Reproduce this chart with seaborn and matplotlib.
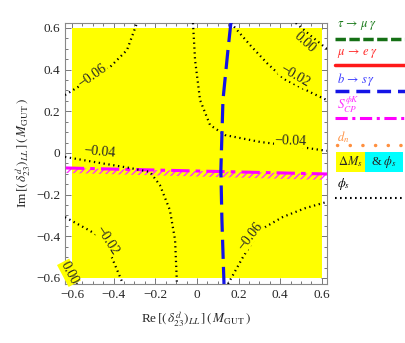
import matplotlib
matplotlib.use("Agg")
import matplotlib.pyplot as plt
from matplotlib.patches import Rectangle
from matplotlib.ticker import MultipleLocator, FuncFormatter
import numpy as np
import pandas as pd
import seaborn as sns

# allowed (Delta M_s & phi_s) region
region_x = [-0.6, 0.6]
region_lo = [-0.6, -0.6]
region_hi = [0.6, 0.6]

# b -> s gamma bound (blue dashed)
bsg_re = [0.163, 0.149, 0.125, 0.115, 0.120, 0.130]
bsg_im = [0.624, 0.494, 0.254, -0.082, -0.322, -0.629]

# S_CP^{phi K} band (magenta)
scp_re = [-0.63, 0.63]
scp_top = [-0.072, -0.101]
scp_bot = [-0.096, -0.130]

# phi_s contours (black dotted)
phis_curves = {
    "m06_ul": ([-0.634, -0.55, -0.417, -0.336, -0.288], [0.278, 0.33, 0.413, 0.494, 0.624]),
    "m04_ur": ([-0.019, -0.009, 0.015, 0.063, 0.135, 0.303, 0.495, 0.624],
               [0.624, 0.446, 0.254, 0.134, 0.086, 0.053, 0.029, 0.010]),
    "m02_ur": ([0.163, 0.259, 0.336, 0.418, 0.548, 0.624], [0.624, 0.514, 0.432, 0.355, 0.29, 0.254]),
    "z00_ur": ([0.475, 0.55, 0.624], [0.624, 0.56, 0.50]),
    "m04_ll": ([-0.634, -0.466, -0.322, -0.226, -0.178, -0.130, -0.105, -0.096],
               [-0.019, -0.048, -0.072, -0.091, -0.154, -0.274, -0.418, -0.629]),
    "m02_ll": ([-0.634, -0.52, -0.466, -0.418, -0.355], [-0.308, -0.37, -0.403, -0.48, -0.629]),
    "z00_ll": ([-0.634, -0.60, -0.576], [-0.55, -0.59, -0.629]),
    "m06_lr": ([0.149, 0.221, 0.303, 0.413, 0.52, 0.624], [-0.629, -0.5, -0.37, -0.307, -0.265, -0.235]),
}

# contour labels: text, re, im, rotation
clab_text = ["\u22120.06", "\u22120.04", "0.00", "\u22120.02", "\u22120.04", "\u22120.02", "0.00", "\u22120.06"]
clab_re = [-0.50, -0.47, 0.52, 0.47, 0.45, -0.43, -0.615, 0.255]
clab_im = [0.37, 0.005, 0.53, 0.37, 0.055, -0.42, -0.575, -0.40]
clab_rot = [35, -5, -42, -30, -2, -57, -62, 52]

ticks = [-0.6, -0.4, -0.2, 0, 0.2, 0.4, 0.6]

sns.set_style("ticks")
plt.rcParams["font.family"] = ["Liberation Serif", "DejaVu Serif"]
plt.rcParams["mathtext.fontset"] = "stix"

fig = plt.figure(figsize=(4.06, 3.43), dpi=100)
ax = fig.add_axes([0.160, 0.172, 0.645, 0.761])

ax.fill_between(region_x, region_lo, region_hi, color="#ffff00", lw=0, zorder=1)

ax.fill_between(scp_re, scp_bot, scp_top, facecolor="none", edgecolor="#ff33ff",
                hatch="/////", lw=0, zorder=2)
sns.lineplot(x=scp_re, y=scp_top, ax=ax, color="#ff00ff", lw=2.2, sort=False,
             estimator=None, zorder=3)
ax.lines[-1].set_dashes([6, 2, 1.5, 2])

for name, (xs, ys) in phis_curves.items():
    sns.lineplot(x=xs, y=ys, ax=ax, color="black", lw=1.6, sort=False,
                 estimator=None, zorder=4)
    ax.lines[-1].set_dashes([0.6, 1.6])

sns.lineplot(x=bsg_re, y=bsg_im, ax=ax, color="#1414e6", lw=2.3, sort=False,
             estimator=None, zorder=5)
ax.lines[-1].set_dashes([6, 2.5])

for t, x, y, r in zip(clab_text, clab_re, clab_im, clab_rot):
    ax.text(x, y, t, rotation=r, ha="center", va="center", fontsize=10, zorder=6,
            rotation_mode="anchor",
            bbox=dict(facecolor="#ffff00", edgecolor="none", pad=0.3))

ax.set_xlim(-0.634, 0.624)
ax.set_ylim(-0.629, 0.624)
ax.set_xticks(ticks)
ax.set_yticks(ticks)
fmt = FuncFormatter(lambda v, p: "0" if abs(v) < 1e-9 else f"{v:.1f}".replace("-", "\u2212"))
ax.xaxis.set_major_formatter(fmt)
ax.yaxis.set_major_formatter(fmt)
ax.xaxis.set_minor_locator(MultipleLocator(0.05))
ax.yaxis.set_minor_locator(MultipleLocator(0.05))
ax.tick_params(which="both", direction="in", top=True, right=True, color="#777777",
               labelsize=9.5, width=0.7)
ax.tick_params(which="major", length=4)
ax.tick_params(which="minor", length=2)
for s in ax.spines.values():
    s.set_color("#888888")
    s.set_linewidth(0.8)

ax.set_xlabel(r"Re$\,[(\,\delta^{d}_{23})_{LL}\,]\,(\,M_{\rm GUT}\,)$", fontsize=9.5, labelpad=6)
ax.set_ylabel(r"Im$\,[(\,\delta^{d}_{23})_{LL}\,]\,(\,M_{\rm GUT}\,)$", fontsize=9.5, labelpad=2)

# legend panel on the right, in pixel coordinates
lg = fig.add_axes([0.82, 0.0, 0.18, 1.0])
lg.set_xlim(333, 406)
lg.set_ylim(343, 0)
lg.axis("off")

x0, x1 = 335, 406
lg.text(337, 25, r"$\tau\,\rightarrow\,\mu\;\gamma$", color="#1a7a1a", fontsize=9, va="center")
l, = lg.plot([x0, x1], [39, 39], color="#157015", lw=2.5)
l.set_dashes([3, 1])
lg.text(337, 53, r"$\mu\,\rightarrow\,e\;\gamma$", color="#ff2a2a", fontsize=9, va="center")
lg.plot([x0, x1], [65, 65], color="#ff1a1a", lw=2.5)
lg.text(337, 80, r"$b\,\rightarrow\,s\,\gamma$", color="#3a3aff", fontsize=9, va="center")
l, = lg.plot([x0, x1], [91, 91], color="#1414e6", lw=2.5)
l.set_dashes([4, 2])
lg.text(337, 105, r"$S^{\phi K}_{CP}$", color="#ff33ff", fontsize=9.5, va="center")
l, = lg.plot([x0, x1], [118, 118], color="#ff00ff", lw=2.2)
l.set_dashes([4, 1.5, 1, 1.5])
lg.text(337, 137, r"$d_n$", color="#ff9040", fontsize=9, va="center")
l, = lg.plot([x0 + 2, x1], [145, 145], color="#ff9040", lw=2.5)
l.set_dashes([0.05, 3.6])
l.set_dash_capstyle("round")
lg.add_patch(Rectangle((336, 152), 29, 20, facecolor="#ffff00", edgecolor="none"))
lg.add_patch(Rectangle((365, 152), 38, 20, facecolor="#00ffff", edgecolor="none"))
lg.text(350.5, 162, r"$\Delta M_s$", fontsize=9, ha="center", va="center")
lg.text(384, 162, r"& $\phi_s$", fontsize=9, ha="center", va="center")
lg.text(337, 184, r"$\phi_s$", color="black", fontsize=9, va="center")
l, = lg.plot([x0, x1], [198, 198], color="black", lw=1.5)
l.set_dashes([0.8, 1.6])

fig.savefig("out.png", dpi=100)
